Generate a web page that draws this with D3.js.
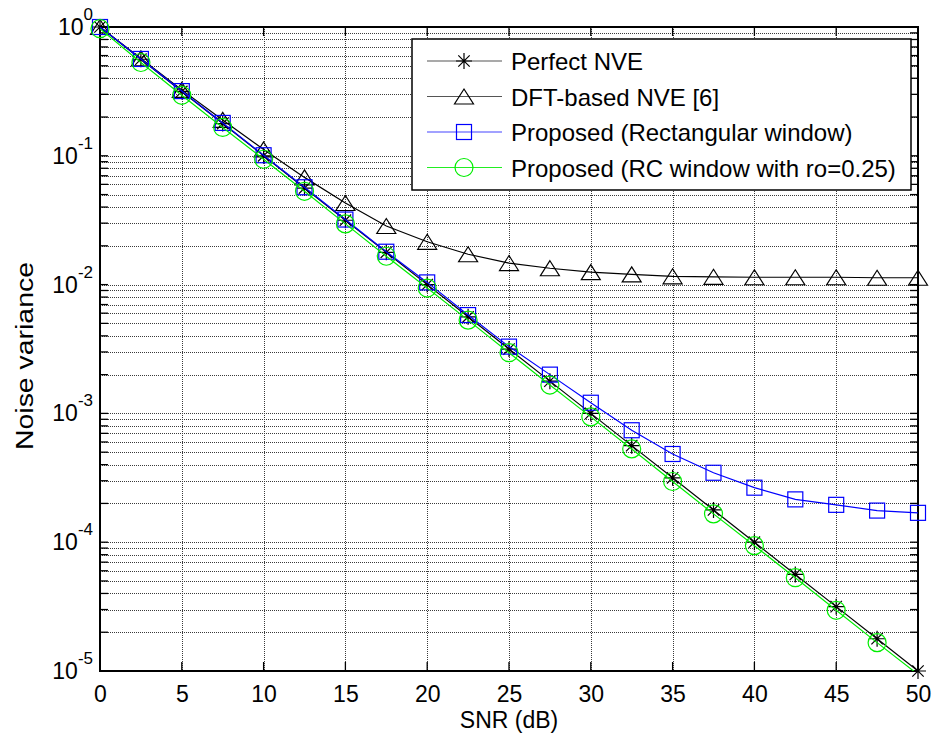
<!DOCTYPE html>
<html>
<head>
<meta charset="utf-8">
<script src="https://cdn.jsdelivr.net/npm/d3@7"></script>
<style>
  html, body { margin: 0; padding: 0; background: #fff; }
  svg { display: block; }
  text { font-family: "Liberation Sans", Arial, Helvetica, sans-serif; fill: #000; }
</style>
</head>
<body>
<svg id="chart" width="933" height="740"></svg>
<script>
// ---------------- data ----------------
const snr = [0, 2.5, 5, 7.5, 10, 12.5, 15, 17.5, 20, 22.5, 25, 27.5, 30, 32.5, 35, 37.5, 40, 42.5, 45, 47.5, 50];
const perfectNVE = [1.0, 0.562, 0.316, 0.178, 0.100, 0.0562, 0.0316, 0.0178, 0.0100, 0.00562, 0.00316, 0.00178, 0.00100,
  5.62e-4, 3.16e-4, 1.78e-4, 1.00e-4, 5.62e-5, 3.16e-5, 1.78e-5, 1.00e-5];
const dftNVE = [1.0, 0.570, 0.325, 0.190, 0.112, 0.0680, 0.0430, 0.0285, 0.0215, 0.0172, 0.0147, 0.0134, 0.0125,
  0.0120, 0.0116, 0.0115, 0.0114, 0.0114, 0.0114, 0.0113, 0.0113];
const propRect = [1.0, 0.565, 0.318, 0.180, 0.101, 0.0570, 0.0320, 0.0180, 0.0104, 0.00580, 0.00330, 0.00200, 0.00121,
  7.4e-4, 4.84e-4, 3.46e-4, 2.65e-4, 2.15e-4, 1.95e-4, 1.76e-4, 1.69e-4];
const propRC = [0.97, 0.530, 0.295, 0.166, 0.094, 0.0530, 0.0296, 0.0166, 0.0094, 0.00530, 0.00296, 0.00166, 0.00094,
  5.3e-4, 2.96e-4, 1.66e-4, 9.4e-5, 5.3e-5, 2.96e-5, 1.66e-5, 9.4e-6];
const xTicks = [0, 5, 10, 15, 20, 25, 30, 35, 40, 45, 50];
const yExponents = [0, -1, -2, -3, -4, -5];
const seriesNames = ["Perfect NVE", "DFT-based NVE [6]", "Proposed (Rectangular window)", "Proposed (RC window with ro=0.25)"];
const xLabel = "SNR (dB)";
const yLabel = "Noise variance";

// ---------------- layout ----------------
const svg = d3.select("#chart");
const L = 100, R = 918, T = 27, B = 671;
const x = d3.scaleLinear().domain([0, 50]).range([L, R]);
const y = d3.scaleLog().domain([1e-5, 1]).range([B, T]);

svg.append("rect").attr("width", 933).attr("height", 740).attr("fill", "#fff");

svg.append("clipPath").attr("id", "plotclip").append("rect")
  .attr("x", L).attr("y", T).attr("width", R - L).attr("height", B - T);

// grid
const grid = svg.append("g");
const minorVals = [];
for (let e = -5; e < 0; e++) for (let m = 1; m <= 9; m++) minorVals.push(m * Math.pow(10, e));
minorVals.push(1);
grid.selectAll("line.hg").data(minorVals).enter().append("line")
  .attr("x1", L).attr("x2", R).attr("y1", d => Math.round(y(d)) + 0.5).attr("y2", d => Math.round(y(d)) + 0.5)
  .attr("stroke", "#3a3a3a").attr("stroke-width", 1).attr("stroke-dasharray", "1,1");
grid.selectAll("line.vg").data(xTicks).enter().append("line")
  .attr("x1", d => Math.round(x(d)) + 0.5).attr("x2", d => Math.round(x(d)) + 0.5).attr("y1", T).attr("y2", B)
  .attr("stroke", "#3a3a3a").attr("stroke-width", 1).attr("stroke-dasharray", "1,1");

// ticks (inside)
const ticks = svg.append("g").attr("stroke", "#000").attr("stroke-width", 1.3);
xTicks.forEach(v => {
  ticks.append("line").attr("x1", x(v)).attr("x2", x(v)).attr("y1", B).attr("y2", B - 9);
  ticks.append("line").attr("x1", x(v)).attr("x2", x(v)).attr("y1", T).attr("y2", T + 9);
});
minorVals.forEach(v => {
  ticks.append("line").attr("x1", L).attr("x2", L + 8).attr("y1", y(v)).attr("y2", y(v));
  ticks.append("line").attr("x1", R).attr("x2", R - 8).attr("y1", y(v)).attr("y2", y(v));
});

// axes box
svg.append("rect").attr("x", L).attr("y", T).attr("width", R - L).attr("height", B - T)
  .attr("fill", "none").attr("stroke", "#000").attr("stroke-width", 2);

// x tick labels via d3 axis
const xAxis = d3.axisBottom(x).tickValues(xTicks).tickSize(0).tickPadding(0).tickFormat(d3.format("d"));
const gx = svg.append("g").attr("transform", `translate(0,${B})`).call(xAxis);
gx.select(".domain").remove();
gx.selectAll("text").attr("font-size", 23).attr("dy", null).attr("y", 31)
  .style("font-family", '"Liberation Sans", Arial, sans-serif').attr("fill", "#000");

// y tick labels (10^e)
const yl = svg.append("g");
yExponents.forEach(e => {
  const t = yl.append("text").attr("x", 93).attr("y", y(Math.pow(10, e)) + 8)
    .attr("text-anchor", "end").attr("font-size", 23);
  t.append("tspan").text("10");
  t.append("tspan").attr("dy", -15).attr("font-size", 17).text(String(e));
});

// axis labels
svg.append("text").attr("x", (L + R) / 2).attr("y", 728).attr("text-anchor", "middle")
  .attr("font-size", 23).text(xLabel);
svg.append("text").attr("transform", `translate(33,356) rotate(-90)`)
  .attr("text-anchor", "middle").attr("font-size", 23)
  .attr("textLength", 188).attr("lengthAdjust", "spacingAndGlyphs").text(yLabel);

// markers
function drawMarker(g, type, cx, cy, color) {
  if (type === "star") {
    const s = 8, d = 5.7;
    const p = `M${cx - s},${cy}L${cx + s},${cy}M${cx},${cy - s}L${cx},${cy + s}` +
      `M${cx - d},${cy - d}L${cx + d},${cy + d}M${cx - d},${cy + d}L${cx + d},${cy - d}`;
    g.append("path").attr("d", p).attr("stroke", color).attr("stroke-width", 1.2).attr("fill", "none");
  } else if (type === "tri") {
    const w = 9.5, h = 7.5;
    g.append("path").attr("d", `M${cx},${cy - h}L${cx + w},${cy + h}L${cx - w},${cy + h}Z`)
      .attr("stroke", color).attr("stroke-width", 1.2).attr("fill", "none");
  } else if (type === "sq") {
    const s = 7.5;
    g.append("rect").attr("x", cx - s).attr("y", cy - s).attr("width", 2 * s).attr("height", 2 * s)
      .attr("stroke", color).attr("stroke-width", 1.2).attr("fill", "none");
  } else if (type === "circ") {
    g.append("circle").attr("cx", cx).attr("cy", cy).attr("r", 9)
      .attr("stroke", color).attr("stroke-width", 1.2).attr("fill", "none");
  }
}

const series = [
  { name: seriesNames[0], vals: perfectNVE, color: "#000000", marker: "star", legendLine: "#555" },
  { name: seriesNames[1], vals: dftNVE, color: "#000000", marker: "tri", legendLine: "#555" },
  { name: seriesNames[2], vals: propRect, color: "#0000ff", marker: "sq", legendLine: "#4444ff" },
  { name: seriesNames[3], vals: propRC, color: "#00ee00", marker: "circ", legendLine: "#22ee22" }
];

const line = d3.line().x(d => x(d[0])).y(d => y(d[1]));
series.forEach(s => {
  const pts = snr.map((v, i) => [v, s.vals[i]]);
  svg.append("path").attr("d", line(pts)).attr("fill", "none").attr("stroke", s.color)
    .attr("stroke-width", 1.2).attr("clip-path", "url(#plotclip)");
  const mg = svg.append("g");
  pts.forEach(p => {
    if (p[1] < 1e-5 * 0.999 || p[1] > 1.001) return;
    drawMarker(mg, s.marker, x(p[0]), y(p[1]), s.color);
  });
});

// legend
const lg = svg.append("g");
lg.append("rect").attr("x", 412).attr("y", 39).attr("width", 499).attr("height", 151)
  .attr("fill", "#fff").attr("stroke", "#000").attr("stroke-width", 1.5);
const rowY = [61, 96.5, 132, 167.5];
series.forEach((s, i) => {
  const ry = rowY[i];
  lg.append("line").attr("x1", 427).attr("x2", 502).attr("y1", ry).attr("y2", ry)
    .attr("stroke", s.legendLine).attr("stroke-width", 1.2);
  drawMarker(lg, s.marker, 464, ry, s.color);
  lg.append("text").attr("x", 511).attr("y", ry + 9).attr("font-size", 24).text(s.name);
});
</script>
</body>
</html>
